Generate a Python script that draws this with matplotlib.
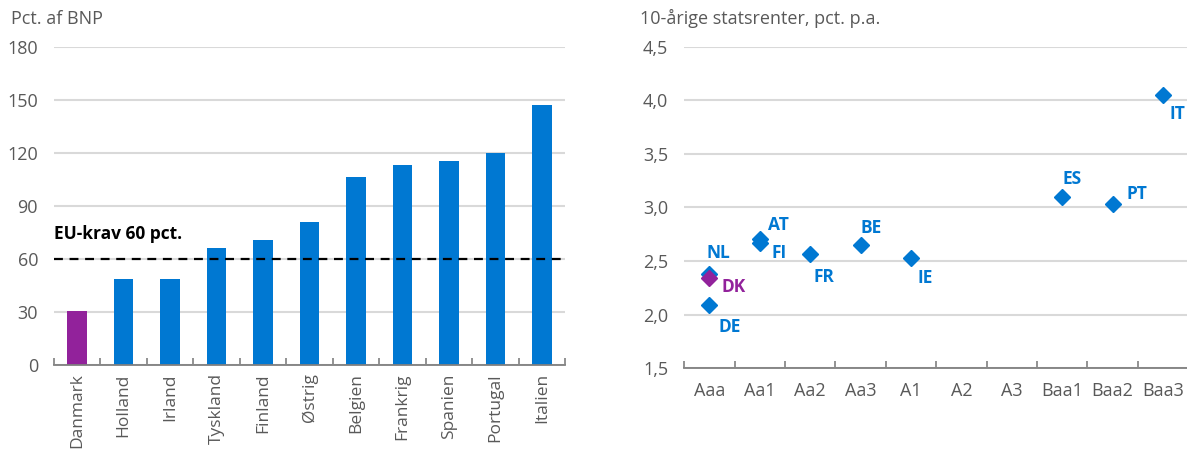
import matplotlib.pyplot as plt
import numpy as np
from matplotlib.ticker import FixedLocator, FuncFormatter

plt.rcParams["font.family"] = ["Open Sans", "DejaVu Sans"]

BLUE = "#0078D2"
PURPLE = "#92229B"
GREY_TEXT = "#595959"
GRID = "#D9D9D9"
AXIS = "#7F7F7F"

# Left panel: gross public debt
countries = ["Danmark", "Holland", "Irland", "Tyskland", "Finland", "Østrig",
             "Belgien", "Frankrig", "Spanien", "Portugal", "Italien"]
debt = [30.6, 48.5, 48.9, 66.4, 70.7, 81.1, 106.2, 113.4, 115.4, 120.0, 147.1]
eu_limit = 60

# Right panel: ratings vs. 10-year yields
ratings = ["Aaa", "Aa1", "Aa2", "Aa3", "A1", "A2", "A3", "Baa1", "Baa2", "Baa3"]
codes = ["NL", "DE", "AT", "FI", "FR", "BE", "IE", "ES", "PT", "IT", "DK"]
code_rating = ["Aaa", "Aaa", "Aa1", "Aa1", "Aa2", "Aa3", "A1", "Baa1", "Baa2", "Baa3", "Aaa"]
yields = [2.38, 2.09, 2.71, 2.67, 2.57, 2.65, 2.53, 3.10, 3.03, 4.05, 2.34]
# label offsets in pixels
label_dx = [9, 20, 19, 19, 14, 10, 14, 10, 24, 14, 12]
label_dy = [21, -22, 14, -10, -23, 17, -20, 18, 10, -19, -9]

fig = plt.figure(figsize=(11.87, 4.5), dpi=100)
ax1 = fig.add_axes([0.0455, 0.189, 0.4305, 0.707])
ax2 = fig.add_axes([0.5765, 0.182, 0.4245, 0.714])

TICK_FS = 13


def style_axis(ax):
    for side in ("left", "top", "right"):
        ax.spines[side].set_visible(False)
    ax.spines["bottom"].set_color(AXIS)
    ax.spines["bottom"].set_linewidth(1.3)
    ax.grid(axis="y", color=GRID, linewidth=1.5)
    ax.set_axisbelow(True)
    ax.tick_params(axis="y", length=0, pad=11.5, labelsize=TICK_FS, labelcolor=GREY_TEXT)
    ax.tick_params(axis="x", which="major", length=0, labelcolor=GREY_TEXT)
    ax.tick_params(axis="x", which="minor", direction="in", length=5,
                   width=1.2, color=AXIS)


# Debt bars
x = np.arange(len(countries))
colors = [PURPLE] + [BLUE] * (len(countries) - 1)
ax1.bar(x, debt, width=0.42, color=colors, zorder=2)
ax1.axhline(eu_limit, color="black", linestyle=(0, (4, 3)), linewidth=1.6, zorder=3)
ax1.text(-0.5, 74, "EU-krav 60 pct.", fontsize=12.5, fontweight="bold",
         color="black", va="center", ha="left")
ax1.set_xlim(-0.5, len(countries) - 0.5)
ax1.set_ylim(0, 180)
ax1.set_yticks(np.arange(0, 181, 30))
ax1.set_xticks(x)
ax1.set_xticklabels(countries, rotation=90, fontsize=12.5)
ax1.xaxis.set_minor_locator(FixedLocator(np.arange(-0.5, len(countries), 1.0)))
style_axis(ax1)
ax1.tick_params(axis="x", which="major", pad=6)
fig.text(0.009, 0.958, "Pct. af BNP", fontsize=TICK_FS, color=GREY_TEXT, va="center")

# Yield scatter
pos = {r: i for i, r in enumerate(ratings)}
for code, rat, yv, dx, dy in zip(codes, code_rating, yields, label_dx, label_dy):
    col = PURPLE if code == "DK" else BLUE
    ax2.plot(pos[rat], yv, marker="D", markersize=8.6, color=col,
             linestyle="none", zorder=3)
    ax2.annotate(code, (pos[rat], yv), xytext=(dx, dy), textcoords="offset pixels",
                 ha="center" if code != "DK" else "left", va="center",
                 fontsize=12.5, fontweight="bold", color=col)
ax2.set_xlim(-0.5, len(ratings) - 0.5)
ax2.set_ylim(1.5, 4.5)
ax2.set_yticks(np.arange(1.5, 4.51, 0.5))
ax2.yaxis.set_major_formatter(FuncFormatter(lambda v, _: f"{v:.1f}".replace(".", ",")))
ax2.set_xticks(np.arange(len(ratings)))
ax2.set_xticklabels(ratings, fontsize=TICK_FS)
ax2.xaxis.set_minor_locator(FixedLocator(np.arange(-0.5, len(ratings), 1.0)))
style_axis(ax2)
ax2.tick_params(axis="x", which="major", pad=10)
fig.text(0.539, 0.958, "10-årige statsrenter, pct. p.a.", fontsize=TICK_FS,
         color=GREY_TEXT, va="center")

fig.savefig("out.png", dpi=100)
